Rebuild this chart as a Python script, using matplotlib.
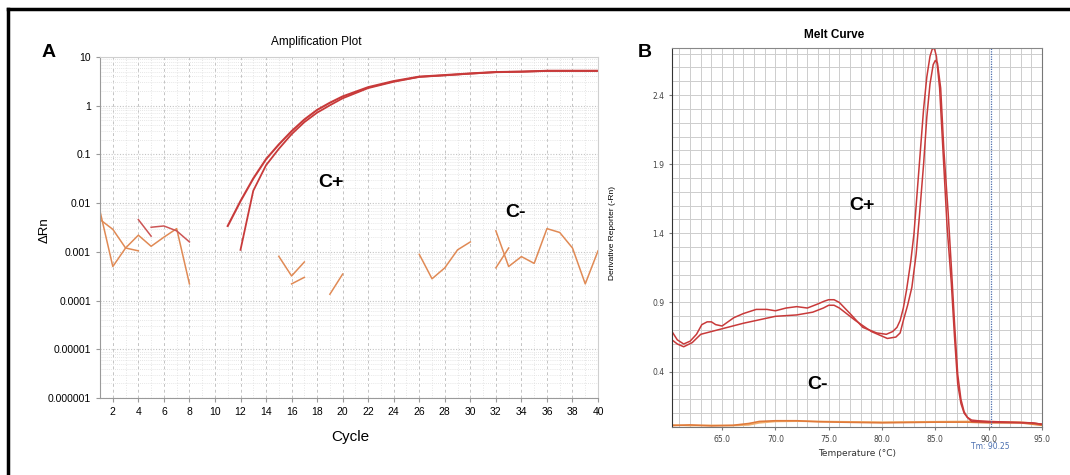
import numpy as np
import matplotlib
matplotlib.use('Agg')
import matplotlib.pyplot as plt
from matplotlib.ticker import FixedLocator, NullFormatter, MultipleLocator, LogLocator

# ---- Panel A: amplification plot (log scale) ----
pos_cycles = [11, 12, 13, 14, 15, 16, 17, 18, 19, 20, 22, 24, 26, 28, 30, 32, 34, 36, 38, 40]
pos_rep1 = [0.0034, 0.011, 0.032, 0.08, 0.16, 0.3, 0.52, 0.82, 1.15, 1.55, 2.4, 3.2, 3.95, 4.25, 4.6, 4.9, 5.0, 5.2, 5.2, 5.2]
pos_cycles2 = [12, 13, 14, 15, 16, 17, 18, 19, 20, 22, 24, 26, 28, 30, 32, 34, 36, 38, 40]
pos_rep2 = [0.0011, 0.018, 0.06, 0.13, 0.26, 0.46, 0.72, 1.02, 1.42, 2.3, 3.1, 3.9, 4.2, 4.55, 4.9, 5.0, 5.2, 5.2, 5.2]

# negative-control fragments (gaps are values <= 0 on the instrument)
neg_segments = [
    ([1, 2, 3, 4, 5, 6, 7, 8], [0.0068, 0.0005, 0.0012, 0.0022, 0.0013, 0.002, 0.003, 0.00022], 'orange'),
    ([1, 2, 3, 4], [0.0046, 0.0029, 0.0012, 0.00105], 'orange'),
    ([4, 5], [0.0046, 0.0021], 'red'),
    ([5, 6, 7, 8], [0.0032, 0.0034, 0.0027, 0.0016], 'red'),
    ([15, 16, 17], [0.00081, 0.00032, 0.00062], 'orange'),
    ([16, 17], [0.00022, 0.0003], 'orange'),
    ([19, 20], [0.000135, 0.00035], 'orange'),
    ([26, 27, 28, 29, 30], [0.00089, 0.00028, 0.00047, 0.0011, 0.0016], 'orange'),
    ([32, 33, 34, 35, 36, 37, 38, 39, 40], [0.0027, 0.0005, 0.0008, 0.00058, 0.003, 0.0025, 0.0012, 0.00022, 0.00105], 'orange'),
    ([32, 33], [0.00047, 0.0012], 'orange'),
]

# ---- Panel B: melt curve ----
melt_t1 = [60.3, 60.8, 61.4, 62.0, 62.6, 63.1, 63.6, 64.0, 64.4, 65.0, 66.1, 67.0, 68.2, 69.2, 70.0, 71.0,
           72.0, 73.0, 74.0, 74.6, 75.0, 75.5, 76.0, 77.0, 78.2, 79.5, 80.4, 81.0, 81.4, 81.7, 82.0, 82.3,
           82.7, 83.0, 83.3, 83.6, 83.9, 84.2, 84.5, 84.7, 84.9, 85.1, 85.4, 85.8, 86.1, 86.5, 86.8, 87.1,
           87.4, 87.7, 88.0, 88.4, 89.0, 90.0, 92.0, 94.0, 95.0]
melt_d1 = [0.69, 0.63, 0.6, 0.62, 0.67, 0.74, 0.76, 0.76, 0.74, 0.73, 0.79, 0.82, 0.85, 0.85, 0.84, 0.86,
           0.87, 0.86, 0.89, 0.91, 0.92, 0.92, 0.9, 0.82, 0.72, 0.68, 0.67, 0.69, 0.72, 0.77, 0.86, 0.99,
           1.2, 1.4, 1.7, 2.0, 2.3, 2.53, 2.68, 2.73, 2.74, 2.68, 2.45, 1.88, 1.45, 1.04, 0.65, 0.31,
           0.17, 0.1, 0.07, 0.04, 0.038, 0.035, 0.032, 0.03, 0.02]
melt_t2 = [60.3, 60.8, 61.4, 62.2, 63.0, 64.0, 65.0, 67.0, 70.0, 72.0, 73.5, 74.5, 75.0, 75.5, 76.0, 77.5,
           79.0, 80.5, 81.3, 81.7, 82.0, 82.4, 82.8, 83.2, 83.5, 83.9, 84.2, 84.5, 84.8, 85.0, 85.2, 85.5,
           85.8, 86.2, 86.5, 86.8, 87.1, 87.4, 87.7, 88.0, 88.4, 89.0, 90.0, 92.0, 94.0, 95.0]
melt_d2 = [0.63, 0.6, 0.58, 0.61, 0.67, 0.69, 0.71, 0.75, 0.8, 0.81, 0.83, 0.86, 0.88, 0.88, 0.86, 0.77,
           0.69, 0.64, 0.65, 0.68, 0.77, 0.88, 1.01, 1.25, 1.52, 1.9, 2.24, 2.48, 2.62, 2.65, 2.63, 2.45,
           2.0, 1.55, 1.16, 0.75, 0.38, 0.2, 0.11, 0.07, 0.05, 0.045, 0.04, 0.035, 0.03, 0.02]
neg_t = [60.3, 62.0, 64.0, 66.0, 67.5, 68.5, 70.0, 72.0, 74.0, 76.0, 80.0, 85.0, 88.0, 90.0, 93.0, 95.0]
neg_d1 = [0.01, 0.015, 0.008, 0.012, 0.025, 0.04, 0.045, 0.045, 0.038, 0.035, 0.03, 0.035, 0.035, 0.03, 0.03, 0.012]
neg_d2 = [0.015, 0.01, 0.012, 0.01, 0.015, 0.03, 0.04, 0.042, 0.04, 0.038, 0.035, 0.038, 0.04, 0.038, 0.035, 0.02]
tm_value = 90.25

red = '#c83a3a'
orange = '#e08a55'
narrow = ['Liberation Sans Narrow', 'Liberation Sans', 'DejaVu Sans']
bold = ['Liberation Sans', 'DejaVu Sans']

fig = plt.figure(figsize=(10.7, 4.75), dpi=100)

# outer frame (top and left edges)
fig.add_artist(plt.Line2D([0.0075, 1.0], [0.9815, 0.9815], color='black', lw=2.5, transform=fig.transFigure))
fig.add_artist(plt.Line2D([0.0075, 0.0075], [0.0, 0.9815], color='black', lw=2.5, transform=fig.transFigure))

# ---------------- Panel A ----------------
ax = fig.add_axes([0.0935, 0.1621, 0.4654, 0.7179])
ax.set_yscale('log')
ax.set_xlim(1, 40)
ax.set_ylim(1e-6, 10)

ax.plot(pos_cycles, pos_rep1, color=red, lw=1.5)
ax.plot(pos_cycles2, pos_rep2, color=red, lw=1.3)
for xs, ys, c in neg_segments:
    ax.plot(xs, ys, color=orange if c == 'orange' else '#cc5555', lw=1.1)

ax.set_xticks(np.arange(2, 41, 2))
ax.xaxis.set_minor_locator(MultipleLocator(1))
ax.yaxis.set_major_locator(FixedLocator([1e-6, 1e-5, 1e-4, 1e-3, 1e-2, 1e-1, 1, 10]))
ax.yaxis.set_minor_locator(LogLocator(base=10, subs=np.arange(2, 10), numticks=20))
ax.yaxis.set_minor_formatter(NullFormatter())
ax.set_yticklabels(['0.000001', '0.00001', '0.0001', '0.001', '0.01', '0.1', '1', '10'])
ax.grid(which='major', axis='x', color='#c4c4c4', lw=0.7, ls=(0, (3, 3)))
ax.grid(which='minor', axis='x', color='#dcdcdc', lw=0.6, ls=(0, (1, 2)))
ax.grid(which='major', axis='y', color='#c4c4c4', lw=0.8, ls=(0, (1, 1.5)))
ax.grid(which='minor', axis='y', color='#dedede', lw=0.6, ls=(0, (1, 1.5)))
ax.tick_params(which='major', length=3, color='#999999', labelsize=7.5)
ax.tick_params(which='minor', length=0)
for lab in ax.get_xticklabels() + ax.get_yticklabels():
    lab.set_family(narrow)
for s in ['left', 'bottom']:
    ax.spines[s].set_color('#9a9a9a')
for s in ['top', 'right']:
    ax.spines[s].set_color('#cfcfcf')

fig.text(0.2953, 0.912, 'Amplification Plot', ha='center', va='center', fontsize=8.5, family=narrow)
fig.text(0.042, 0.515, '\u0394Rn', ha='center', va='center', rotation=90, fontsize=9.5, family=narrow)
fig.text(0.327, 0.08, 'Cycle', ha='center', va='center', fontsize=11, family=narrow)
fig.text(0.045, 0.89, 'A', ha='center', va='center', fontsize=14, weight='bold', family=bold)
fig.text(0.309, 0.615, 'C+', ha='center', va='center', fontsize=14, weight='bold', family=bold)
fig.text(0.482, 0.553, 'C-', ha='center', va='center', fontsize=14, weight='bold', family=bold)

# ---------------- Panel B ----------------
bx = fig.add_axes([0.628, 0.1011, 0.3458, 0.7979])
bx.set_xlim(60.3, 95)
bx.set_ylim(0, 2.74)

bx.plot(neg_t, neg_d2, color='#f0b070', lw=1.2)
bx.plot(neg_t, neg_d1, color='#e07a3a', lw=1.2)
bx.plot(melt_t1, melt_d1, color=red, lw=1.1)
bx.plot(melt_t2, melt_d2, color=red, lw=1.1)
bx.axvline(tm_value, color='#4a6fb0', lw=0.9, ls=(0, (1, 1)))

bx.set_xticks(np.arange(65, 96, 5))
bx.set_xticklabels(['%.1f' % v for v in np.arange(65, 96, 5)])
bx.set_yticks([0.4, 0.9, 1.4, 1.9, 2.4])
bx.set_yticklabels(['0.4', '0.9', '1.4', '1.9', '2.4'])
bx.xaxis.set_minor_locator(MultipleLocator(1))
bx.yaxis.set_minor_locator(MultipleLocator(0.1))
bx.grid(which='both', color='#cdcdcd', lw=0.7)
bx.tick_params(which='major', length=2, color='#777777', labelsize=5.5, labelcolor='#444444')
bx.tick_params(which='minor', length=0)
bx.spines['left'].set_color('#333333')
bx.spines['bottom'].set_color('#777777')
bx.spines['top'].set_color('#888888')
bx.spines['right'].set_color('#777777')
bx.set_axisbelow(True)

fig.text(0.78, 0.926, 'Melt Curve', ha='center', va='center', fontsize=8.5, weight='bold', family=bold)
fig.text(0.572, 0.51, 'Derivative Reporter (-Rn)', ha='center', va='center', rotation=90, fontsize=6, family=narrow)
fig.text(0.801, 0.045, 'Temperature (\u00b0C)', ha='center', va='center', fontsize=6.5, color='#333333')
fig.text(0.9255, 0.061, 'Tm: 90.25', ha='center', va='center', fontsize=5.5, color='#4a6fb0')
fig.text(0.603, 0.89, 'B', ha='center', va='center', fontsize=14, weight='bold', family=bold)
fig.text(0.806, 0.568, 'C+', ha='center', va='center', fontsize=14, weight='bold', family=bold)
fig.text(0.764, 0.19, 'C-', ha='center', va='center', fontsize=14, weight='bold', family=bold)

fig.savefig('out.png', dpi=100)
